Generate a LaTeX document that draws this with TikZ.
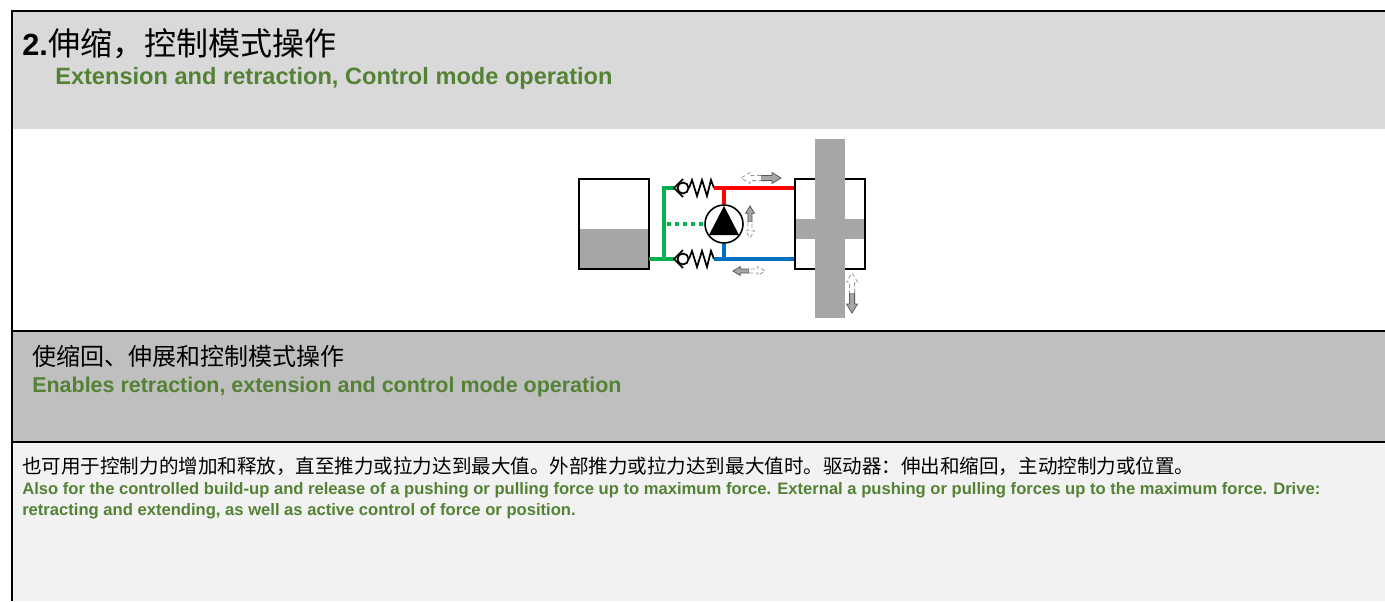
\documentclass[tikz,border=0pt]{standalone}
\usepackage{fontspec}
\setmainfont{Liberation Sans}
\newfontfamily\cjk{Noto Sans CJK SC}
\usetikzlibrary{positioning}
\definecolor{headgray}{HTML}{D9D9D9}
\definecolor{modegray}{HTML}{BFBFBF}
\definecolor{notegray}{HTML}{F2F2F2}
\definecolor{textgreen}{HTML}{548235}
\definecolor{partgray}{HTML}{A6A6A6}
\definecolor{pipegreen}{HTML}{00B050}
\definecolor{pipered}{HTML}{FF0000}
\definecolor{pipeblue}{HTML}{0070C0}
\tikzset{
  frame/.style={line width=1.6pt},
  pipe/.style={line width=2.3pt},
  part/.style={line width=1.3pt},
  entext/.style={anchor=base west, inner sep=0pt, text=textgreen, font=\bfseries#1},
  cntext/.style={anchor=base west, inner sep=0pt, font=\cjk#1},
  pump/.style={circle, draw, line width=1.2pt, fill=white, minimum size=28.5pt, inner sep=0pt},
  checkvalve/.pic={
    \draw[line width=1.3pt] (9,-9) -- (0,0) -- (9,9);
    \draw[line width=1.3pt] (9,0) circle[radius=5.5];
    \draw[line width=1.3pt] (15,0) -- (18,-8) -- (23,8) -- (28,-8) -- (33,8) -- (37,-8) -- (40,0);
  },
  flowarrow/.pic={
    \filldraw[fill=partgray, draw=gray!70!black, line width=0.6pt] (0,-2.6) -- (11,-2.6) -- (11,-5.5) -- (20,0) -- (11,5.5) -- (11,2.6) -- (0,2.6) -- cycle;
    \filldraw[fill=white, draw=gray!80, densely dashed, line width=0.6pt] (0,-2.6) -- (-11,-2.6) -- (-11,-5.5) -- (-20,0) -- (-11,5.5) -- (-11,2.6) -- (0,2.6);
  }
}
\begin{document}
\begin{tikzpicture}[x=0.75pt,y=-0.75pt]
  \useasboundingbox (0,0) rectangle (1385,601);
  \fill[headgray] (12,11) rectangle (1385,129);
  \fill[white] (12,129) rectangle (1385,331);
  \fill[modegray] (12,331) rectangle (1385,442);
  \fill[notegray] (12,442) rectangle (1385,601);
  \draw[frame] (12,601) -- (12,11) -- (1385,11);
  \draw[frame] (12,331) -- (1385,331);
  \draw[frame] (12,442) -- (1385,442);

  \node[anchor=base west, inner sep=0pt, font=\bfseries\fontsize{23}{28}\selectfont] (num) at (22,55) {2.};
  \node[cntext=\fontsize{24}{28}\selectfont, at=(num.base east)] (title) {伸缩，控制模式操作};
  \node[entext=\fontsize{17.7}{21}\selectfont] (titleEn) at (55,84) {Extension and retraction, Control mode operation};
  \node[cntext=\fontsize{18}{22}\selectfont] (mode) at (32,365) {使缩回、伸展和控制模式操作};
  \node[entext=\fontsize{16.1}{19}\selectfont] (modeEn) at (32,392) {Enables retraction, extension and control mode operation};
  \node[cntext=\fontsize{14.65}{18}\selectfont] (note) at (22,473) {也可用于控制力的增加和释放，直至推力或拉力达到最大值。外部推力或拉力达到最大值时。驱动器：伸出和缩回，主动控制力或位置。};
  \node[entext=\fontsize{12.45}{15}\selectfont] (noteEn) at (22,494) {Also for the controlled build-up and release of a pushing or pulling force up to maximum force. External a pushing or pulling forces up to the maximum force. Drive:};
  \node[entext=\fontsize{12.45}{15}\selectfont] (noteEnB) at (22,515) {retracting and extending, as well as active control of force or position.};

  \fill[partgray] (579,229) rectangle (649,269);
  \draw[part] (579,179) rectangle (649,269);

  \draw[pipe, pipegreen] (649,259) -- (674,259);
  \draw[pipe, pipegreen] (664,259) -- (664,188) -- (674,188);
  \draw[pipe, pipegreen, dash pattern=on 3pt off 3pt] (667,224) -- (705,224);
  \pic at (674,188) {checkvalve};
  \pic at (674,259) {checkvalve};

  \node[pump] (pump) at (724,224) {};
  \fill (724,206) -- (709,235) -- (739,235) -- cycle;
  \draw[pipe, pipered] (714,188) -- (795,188);
  \draw[pipe, pipered] (724,188) -- (pump.north);
  \draw[pipe, pipeblue] (714,259) -- (795,259);
  \draw[pipe, pipeblue] (pump.south) -- (724,259);

  \draw[part] (795,179) rectangle (865,269);
  \fill[partgray] (796,219) rectangle (864,239);
  \fill[partgray] (815,139) rectangle (845,318);

  \pic at (761,178) {flowarrow};
  \pic[rotate=180, scale=0.8] at (749,271) {flowarrow};
  \pic[rotate=90, scale=0.8] at (750,222) {flowarrow};
  \pic[rotate=-90] at (852,293) {flowarrow};
\end{tikzpicture}
\end{document}
